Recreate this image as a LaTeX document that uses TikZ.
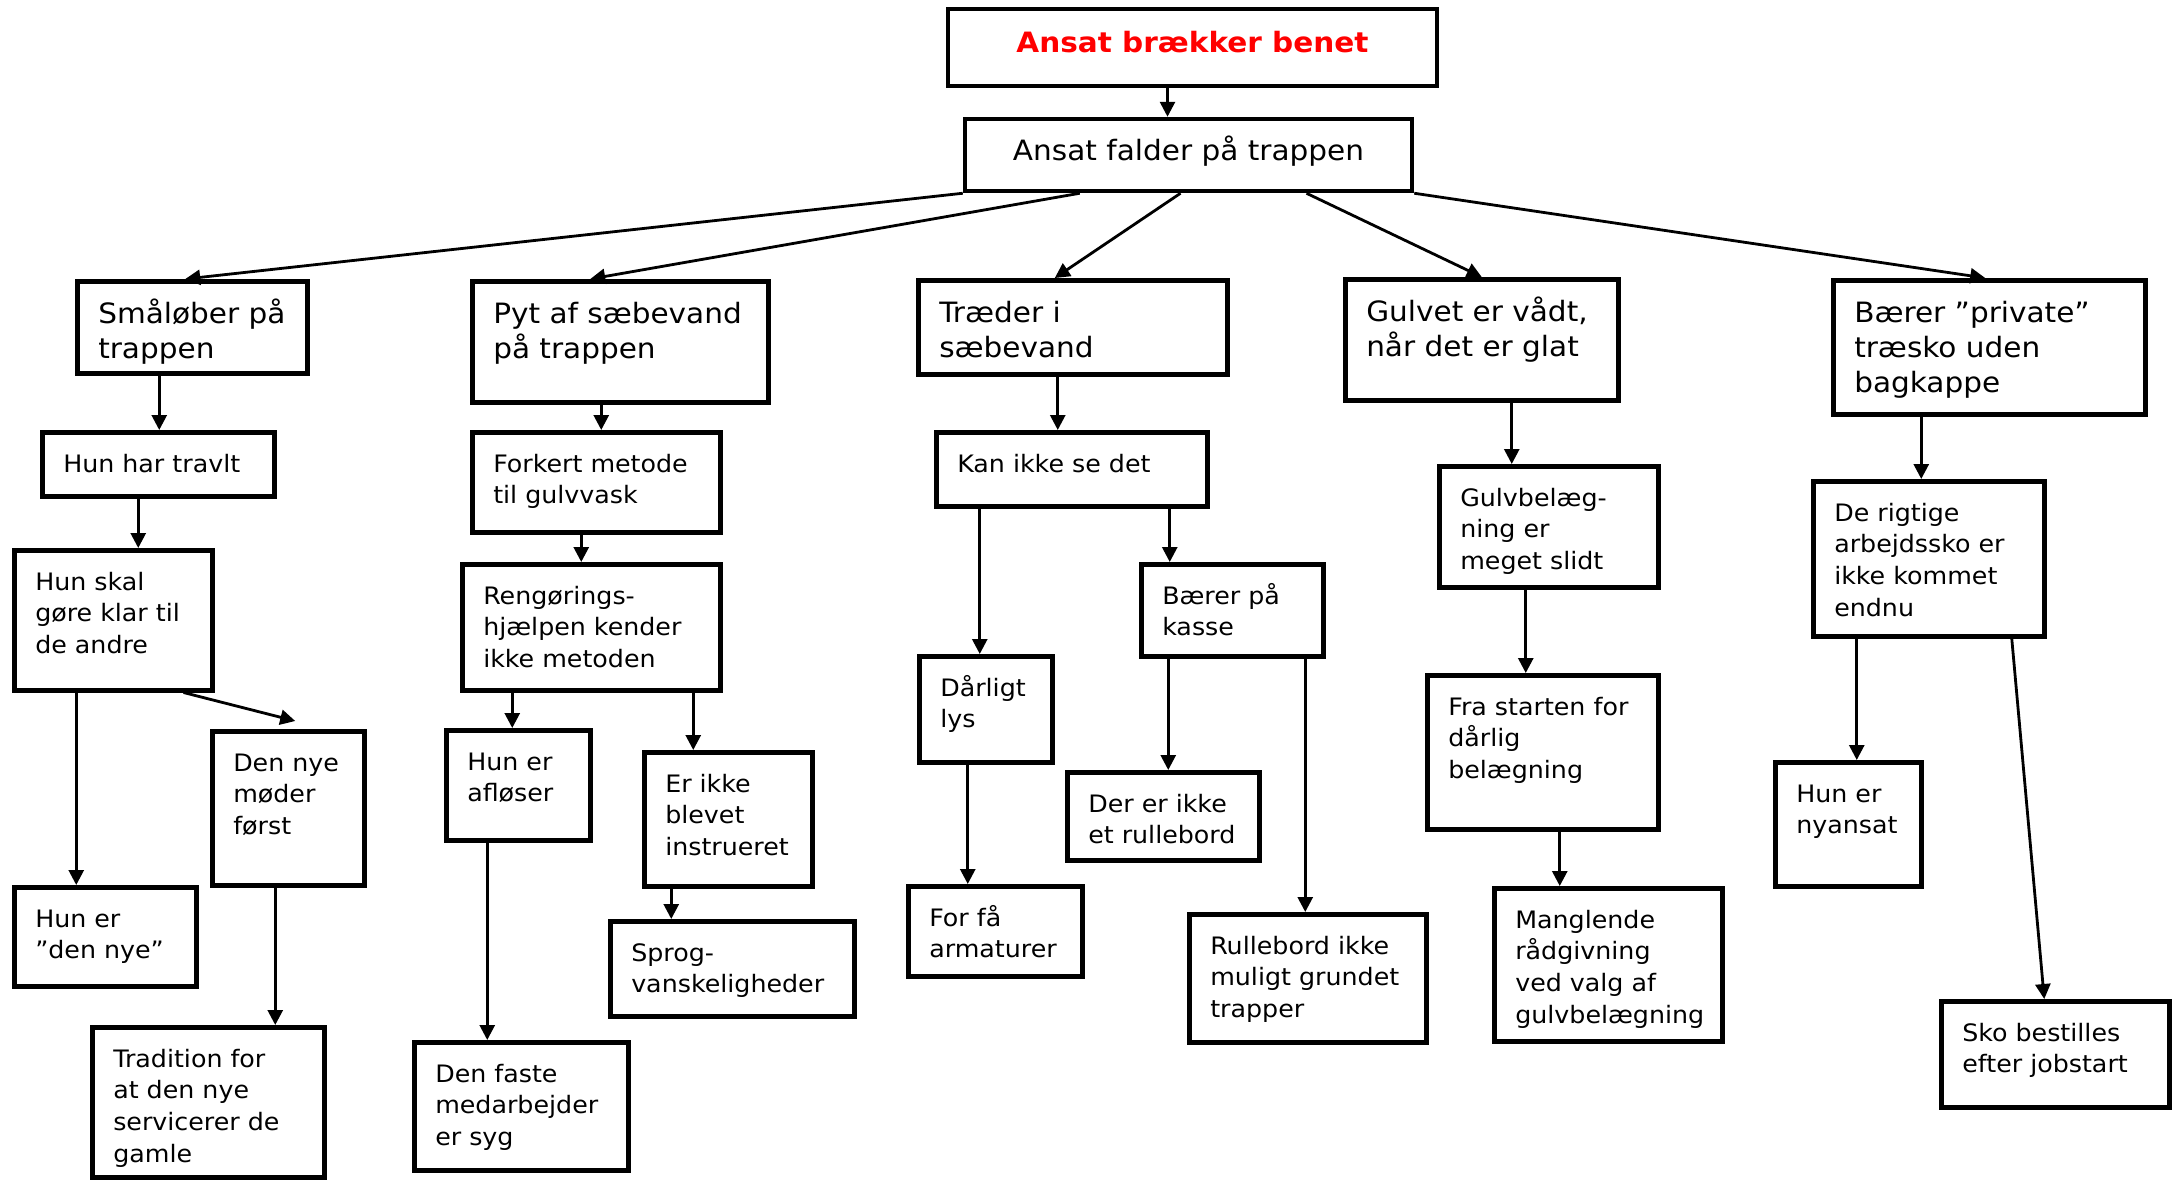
\documentclass[tikz,border=0pt]{standalone}
\usepackage{fontspec}
\setmainfont[FakeStretch=1.055]{DejaVu Sans}
\usetikzlibrary{arrows.meta}

\newlength\celltop
\newcommand\bigtxt{\fontsize{28pt}{35pt}\selectfont\setlength\celltop{42pt}}
\newcommand\smalltxt{\fontsize{24pt}{31.7pt}\selectfont\setlength\celltop{40pt}}
\newcommand\cell[3]{\parbox[c][#2pt][t]{#1pt}{\raggedright\leftskip=21pt\rule{0pt}{\celltop}#3}}

\begin{document}
\begin{tikzpicture}[x=1pt,y=-1pt,
    causebox/.style={draw,line width=4.5pt,inner sep=0pt,anchor=north west,font=\smalltxt},
    levelbox/.style={causebox,font=\bigtxt},
    topbox/.style={draw,line width=4.5pt,inner sep=0pt,font=\fontsize{28pt}{35pt}\selectfont,text height=21pt,text depth=11pt},
    arr/.style={-{Triangle[length=15pt,width=15pt]},line width=2.8pt}]
    \useasboundingbox (0,0) rectangle (2176,1179);

    \node[topbox,minimum width=489pt,minimum height=77pt,text=red,font=\fontsize{28pt}{35pt}\selectfont\bfseries] (brk) at (1192.5,47.5) {Ansat brækker benet};
    \node[topbox,minimum width=447pt,minimum height=72pt] (fall) at (1188.5,155) {Ansat falder på trappen};

    \node[levelbox] (smaa) at (75,279) {\cell{230}{92}{Småløber på\\trappen}};
    \node[causebox] (travlt) at (40,430) {\cell{232}{64}{Hun har travlt}};
    \node[causebox] (skal) at (12,548) {\cell{198}{140}{Hun skal\\gøre klar til\\de andre}};
    \node[causebox] (nye1) at (12,885) {\cell{182}{99}{Hun er\\”den nye”}};
    \node[causebox] (nye2) at (210,729) {\cell{152}{154}{Den nye\\møder\\først}};
    \node[causebox] (trad) at (90,1025) {\cell{232}{150}{Tradition for\\at den nye\\servicerer de\\gamle}};

    \node[levelbox] (pyt) at (470,279) {\cell{296}{121}{Pyt af sæbevand\\på trappen}};
    \node[causebox] (fork) at (470,430) {\cell{248}{100}{Forkert metode\\til gulvvask}};
    \node[causebox] (reng) at (460,562) {\cell{258}{126}{Rengørings-\\hjælpen kender\\ikke metoden}};
    \node[causebox] (afl) at (444,728) {\cell{144}{110}{Hun er\\afløser}};
    \node[causebox] (faste) at (412,1040) {\cell{214}{128}{Den faste\\medarbejder\\er syg}};
    \node[causebox] (instr) at (642,750) {\cell{168}{134}{Er ikke\\blevet\\instrueret}};
    \node[causebox] (sprog) at (608,919) {\cell{244}{95}{Sprog-\\vanskeligheder}};

    \node[levelbox] (traed) at (916,278) {\cell{309}{94}{Træder i\\sæbevand}};
    \node[causebox] (kan) at (934,430) {\cell{271}{74}{Kan ikke se det}};
    \node[causebox] (lys) at (917,654) {\cell{133}{106}{Dårligt\\lys}};
    \node[causebox] (arm) at (906,884) {\cell{174}{90}{For få\\armaturer}};
    \node[causebox] (kasse) at (1139,562) {\cell{182}{92}{Bærer på\\kasse}};
    \node[causebox] (rulle1) at (1065,770) {\cell{192}{88}{Der er ikke\\et rullebord}};
    \node[causebox] (rulle2) at (1187,912) {\cell{237}{128}{Rullebord ikke\\muligt grundet\\trapper}};

    \node[levelbox] (vaad) at (1343,277) {\cell{273}{121}{Gulvet er vådt,\\når det er glat}};
    \node[causebox] (slidt) at (1437,464) {\cell{219}{121}{Gulvbelæg-\\ning er\\meget slidt}};
    \node[causebox] (start) at (1425,673) {\cell{231}{154}{Fra starten for\\dårlig\\belægning}};
    \node[causebox] (raad) at (1492,886) {\cell{228}{153}{Manglende\\rådgivning\\ved valg af\\gulvbelægning}};

    \node[levelbox] (priv) at (1831,278) {\cell{312}{134}{Bærer ”private”\\træsko uden\\bagkappe}};
    \node[causebox] (rigt) at (1811,479) {\cell{231}{155}{De rigtige\\arbejdssko er\\ikke kommet\\endnu}};
    \node[causebox] (nyans) at (1773,760) {\cell{146}{124}{Hun er\\nyansat}};
    \node[causebox] (sko) at (1939,999) {\cell{228}{106}{Sko bestilles\\efter jobstart}};

    \draw[arr] ([xshift=-25pt]brk.south) -- ([xshift=-25pt]brk.south |- fall.north);
    \draw[arr] (fall.south west) -- ([xshift=-7pt]smaa.north);
    \draw[arr] ([xshift=117pt]fall.south west) -- ([xshift=-30pt]pyt.north);
    \draw[arr] ([xshift=-8pt]fall.south) -- ([xshift=-18pt]traed.north);
    \draw[arr] ([xshift=118pt]fall.south) -- (vaad.north);
    \draw[arr] (fall.south east) -- ([xshift=-4pt]priv.north);

    \draw[arr] ([xshift=-33pt]smaa.south) -- ([xshift=-33pt]smaa.south |- travlt.north);
    \draw[arr] ([xshift=-20pt]travlt.south) -- ([xshift=-20pt]travlt.south |- skal.north);
    \draw[arr] ([xshift=-37pt]skal.south) -- ([xshift=-37pt]skal.south |- nye1.north);
    \draw[arr] ([xshift=-31pt]skal.south east) -- ([shift={(7pt,8pt)}]nye2.north);
    \draw[arr] ([xshift=-13pt]nye2.south) -- ([xshift=-13pt]nye2.south |- trad.north);

    \draw[arr] ([xshift=-19pt]pyt.south) -- ([xshift=-19pt]pyt.south |- fork.north);
    \draw[arr] ([xshift=-15pt]fork.south) -- ([xshift=-15pt]fork.south |- reng.north);
    \draw[arr] ([xshift=-79pt]reng.south) -- ([xshift=-79pt]reng.south |- afl.north);
    \draw[arr] ([xshift=102pt]reng.south) -- ([xshift=102pt]reng.south |- instr.north);
    \draw[arr] ([xshift=-31pt]afl.south) -- ([xshift=-31pt]afl.south |- faste.north);
    \draw[arr] ([xshift=-57pt]instr.south) -- ([xshift=-57pt]instr.south |- sprog.north);

    \draw[arr] ([xshift=-15pt]traed.south) -- ([xshift=-15pt]traed.south |- kan.north);
    \draw[arr] ([xshift=-92pt]kan.south) -- ([xshift=-92pt]kan.south |- lys.north);
    \draw[arr] ([xshift=98pt]kan.south) -- ([xshift=98pt]kan.south |- kasse.north);
    \draw[arr] ([xshift=-18pt]lys.south) -- ([xshift=-18pt]lys.south |- arm.north);
    \draw[arr] ([xshift=-64pt]kasse.south) -- ([xshift=-64pt]kasse.south |- rulle1.north);
    \draw[arr] ([xshift=73pt]kasse.south) -- ([xshift=73pt]kasse.south |- rulle2.north);

    \draw[arr] ([xshift=30pt]vaad.south) -- ([xshift=30pt]vaad.south |- slidt.north);
    \draw[arr] ([xshift=-23pt]slidt.south) -- ([xshift=-23pt]slidt.south |- start.north);
    \draw[arr] ([xshift=17pt]start.south) -- ([xshift=17pt]start.south |- raad.north);

    \draw[arr] ([xshift=-68pt]priv.south) -- ([xshift=-68pt]priv.south |- rigt.north);
    \draw[arr] ([xshift=-72pt]rigt.south) -- ([xshift=-72pt]rigt.south |- nyans.north);
    \draw[arr] ([xshift=83pt]rigt.south) -- ([xshift=-11pt]sko.north);
\end{tikzpicture}
\end{document}
